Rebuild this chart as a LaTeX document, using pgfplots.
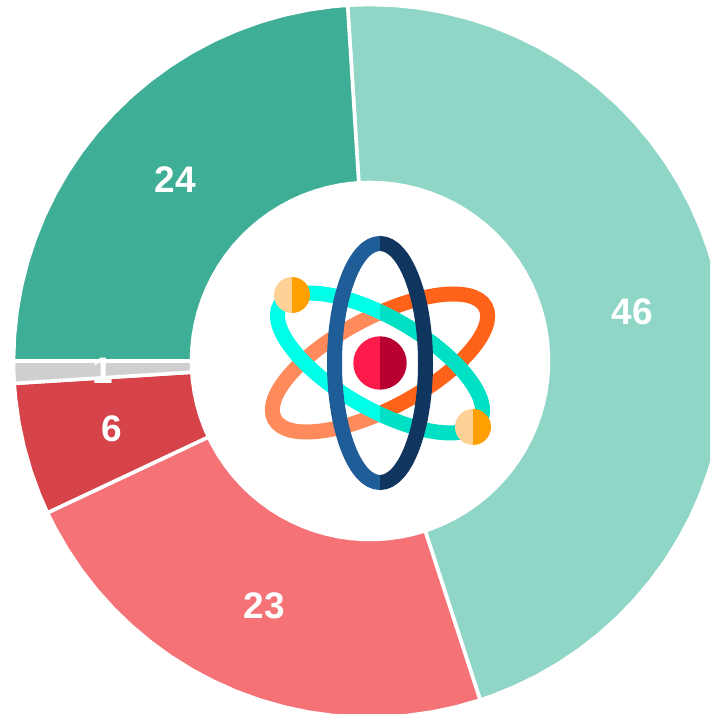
\documentclass[border=0pt]{standalone}
\usepackage{pgfplots}
\pgfplotsset{compat=1.18}
\usepackage{fontspec}
\setmainfont{Liberation Sans}
\usetikzlibrary{calc}
\definecolor{sA}{HTML}{8FD6C7}
\definecolor{sB}{HTML}{F57277}
\definecolor{sC}{HTML}{D64449}
\definecolor{sD}{HTML}{D1CECF}
\definecolor{sE}{HTML}{3FAE96}
\definecolor{orL}{HTML}{FF8A5C}
\definecolor{orR}{HTML}{FF6319}
\definecolor{cyL}{HTML}{00FFE6}
\definecolor{cyR}{HTML}{00E0C4}
\definecolor{blL}{HTML}{1F5D99}
\definecolor{blR}{HTML}{103660}
\definecolor{nuL}{HTML}{FF1A4C}
\definecolor{nuR}{HTML}{B80031}
\definecolor{elL}{HTML}{FFD197}
\definecolor{elR}{HTML}{FF9F00}
\tikzset{
  val/.style={text=white,font=\fontsize{37}{41}\selectfont\bfseries,inner sep=0pt,anchor=center}
}
\pgfplotsset{
  slice/.style={draw=white,line width=3.6pt,line join=miter,data cs=polar,no markers}
}
\newcommand{\halfring}[5]{% rotation, left colour, right colour, x radius, y radius
  \begin{scope}
    \clip (axis cs:-400,-400) rectangle (axis cs:10,400);
    \draw[#2,line width=15pt,rotate around={#1:(ic)}] (ic) ellipse [x radius=#4pt,y radius=#5pt];
  \end{scope}
  \begin{scope}
    \clip (axis cs:10,-400) rectangle (axis cs:400,400);
    \draw[#3,line width=15pt,rotate around={#1:(ic)}] (ic) ellipse [x radius=#4pt,y radius=#5pt];
  \end{scope}
}
\newcommand{\halfdisc}[4]{% centre coordinate, radius, left colour, right colour
  \begin{scope}
    \clip ($(#1)+(-40pt,-40pt)$) rectangle ($(#1)+(0pt,40pt)$);
    \fill[#3] (#1) circle [radius=#2pt];
  \end{scope}
  \begin{scope}
    \clip ($(#1)+(0pt,-40pt)$) rectangle ($(#1)+(40pt,40pt)$);
    \fill[#4] (#1) circle [radius=#2pt];
  \end{scope}
}
\begin{document}
\begin{tikzpicture}
\begin{axis}[
  scale only axis,
  width=710pt,height=714pt,
  xmin=-370,xmax=340,ymin=-353,ymax=361,
  hide axis,clip=true
]
% 46 %  (polar: angle, radius)
\addplot[slice,fill=sA] coordinates {
(93.6,356.5)(90,356.5)(86,356.5)(82,356.5)(78,356.5)(74,356.5)(70,356.5)(66,356.5)(62,356.5)(58,356.5)
(54,356.5)(50,356.5)(46,356.5)(42,356.5)(38,356.5)(34,356.5)(30,356.5)(26,356.5)(22,356.5)(18,356.5)
(14,356.5)(10,356.5)(6,356.5)(2,356.5)(-2,356.5)(-6,356.5)(-10,356.5)(-14,356.5)(-18,356.5)(-22,356.5)
(-26,356.5)(-30,356.5)(-34,356.5)(-38,356.5)(-42,356.5)(-46,356.5)(-50,356.5)(-54,356.5)(-58,356.5)
(-62,356.5)(-66,356.5)(-70,356.5)(-72,356.5)
(-72,178.5)(-70,178.5)(-66,178.5)(-62,178.5)(-58,178.5)(-54,178.5)(-50,178.5)(-46,178.5)(-42,178.5)
(-38,178.5)(-34,178.5)(-30,178.5)(-26,178.5)(-22,178.5)(-18,178.5)(-14,178.5)(-10,178.5)(-6,178.5)
(-2,178.5)(2,178.5)(6,178.5)(10,178.5)(14,178.5)(18,178.5)(22,178.5)(26,178.5)(30,178.5)(34,178.5)
(38,178.5)(42,178.5)(46,178.5)(50,178.5)(54,178.5)(58,178.5)(62,178.5)(66,178.5)(70,178.5)(74,178.5)
(78,178.5)(82,178.5)(86,178.5)(90,178.5)(93.6,178.5)
} -- cycle;
% 23 %
\addplot[slice,fill=sB] coordinates {
(-72,356.5)(-76,356.5)(-80,356.5)(-84,356.5)(-88,356.5)(-92,356.5)(-96,356.5)(-100,356.5)(-104,356.5)
(-108,356.5)(-112,356.5)(-116,356.5)(-120,356.5)(-124,356.5)(-128,356.5)(-132,356.5)(-136,356.5)
(-140,356.5)(-144,356.5)(-148,356.5)(-152,356.5)(-154.8,356.5)
(-154.8,178.5)(-152,178.5)(-148,178.5)(-144,178.5)(-140,178.5)(-136,178.5)(-132,178.5)(-128,178.5)
(-124,178.5)(-120,178.5)(-116,178.5)(-112,178.5)(-108,178.5)(-104,178.5)(-100,178.5)(-96,178.5)
(-92,178.5)(-88,178.5)(-84,178.5)(-80,178.5)(-76,178.5)(-72,178.5)
} -- cycle;
% 6 %
\addplot[slice,fill=sC] coordinates {
(-154.8,356.5)(-158,356.5)(-162,356.5)(-166,356.5)(-170,356.5)(-174,356.5)(-176.4,356.5)
(-176.4,178.5)(-174,178.5)(-170,178.5)(-166,178.5)(-162,178.5)(-158,178.5)(-154.8,178.5)
} -- cycle;
% 1 %
\addplot[slice,fill=sD] coordinates {
(-176.4,356.5)(-178,356.5)(-180,356.5)
(-180,178.5)(-178,178.5)(-176.4,178.5)
} -- cycle;
% 24 %
\addplot[slice,fill=sE] coordinates {
(-180,356.5)(-184,356.5)(-188,356.5)(-192,356.5)(-196,356.5)(-200,356.5)(-204,356.5)(-208,356.5)
(-212,356.5)(-216,356.5)(-220,356.5)(-224,356.5)(-228,356.5)(-232,356.5)(-236,356.5)(-240,356.5)
(-244,356.5)(-248,356.5)(-252,356.5)(-256,356.5)(-260,356.5)(-264,356.5)(-266.4,356.5)
(-266.4,178.5)(-264,178.5)(-260,178.5)(-256,178.5)(-252,178.5)(-248,178.5)(-244,178.5)(-240,178.5)
(-236,178.5)(-232,178.5)(-228,178.5)(-224,178.5)(-220,178.5)(-216,178.5)(-212,178.5)(-208,178.5)
(-204,178.5)(-200,178.5)(-196,178.5)(-192,178.5)(-188,178.5)(-184,178.5)(-180,178.5)
} -- cycle;
% value labels
\node[val] at (axis cs:262.5,49) {46};
\node[val] at (axis cs:-105.5,-245) {23};
\node[val] at (axis cs:-258.5,-68) {6};
\node[val] at (axis cs:-267.5,-10) {1};
\node[val] at (axis cs:-194.5,181) {24};
% atom icon
\coordinate (ic) at (axis cs:10,-2);
\coordinate (e1) at (axis cs:-78,66);
\coordinate (e2) at (axis cs:103,-66);
\halfring{28}{orL}{orR}{119.5}{45.5}
\halfring{-30}{cyL}{cyR}{115.5}{45.5}
\halfdisc{ic}{26.7}{nuL}{nuR}
\halfring{90}{blL}{blR}{119.5}{45.5}
\halfdisc{e1}{18}{elL}{elR}
\halfdisc{e2}{18}{elL}{elR}
\end{axis}
\end{tikzpicture}
\end{document}
